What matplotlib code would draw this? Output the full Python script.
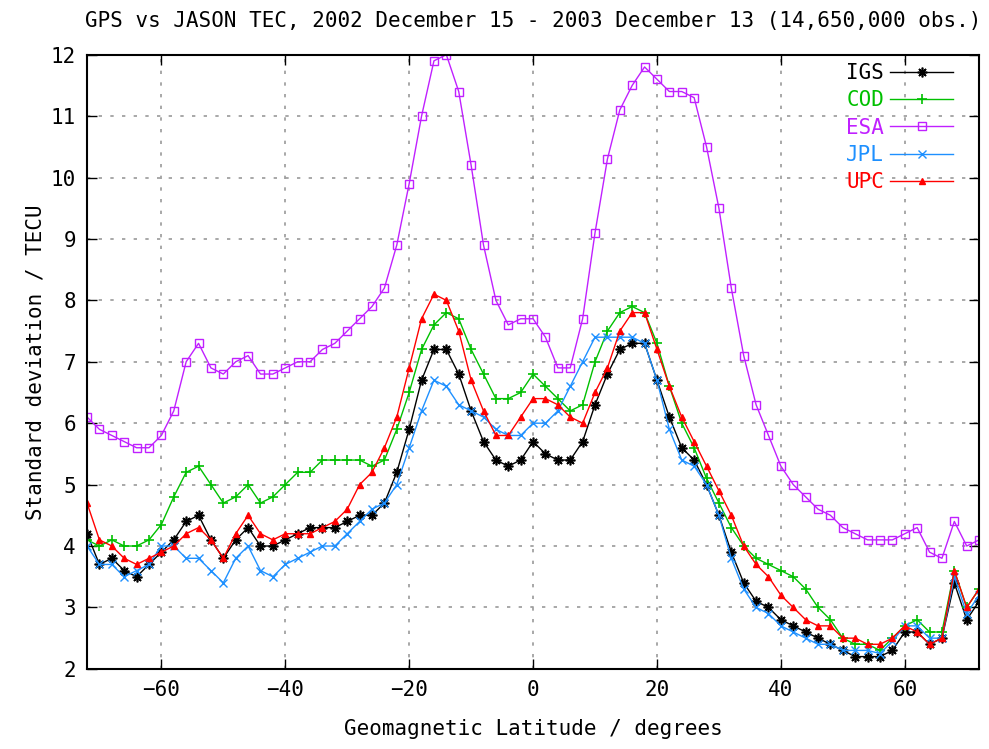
import matplotlib
matplotlib.use("Agg")
import matplotlib.pyplot as plt

# latitud geomagnetica, cada 2 grados
lat = list(range(-72, 74, 2))

igs = [4.2, 3.7, 3.8, 3.6, 3.5, 3.7, 3.9, 4.1, 4.4, 4.5,
       4.1, 3.8, 4.1, 4.3, 4.0, 4.0, 4.1, 4.2, 4.3, 4.3,
       4.3, 4.4, 4.5, 4.5, 4.7, 5.2, 5.9, 6.7, 7.2, 7.2,
       6.8, 6.2, 5.7, 5.4, 5.3, 5.4, 5.7, 5.5, 5.4, 5.4,
       5.7, 6.3, 6.8, 7.2, 7.3, 7.3, 6.7, 6.1, 5.6, 5.4,
       5.0, 4.5, 3.9, 3.4, 3.1, 3.0, 2.8, 2.7, 2.6, 2.5,
       2.4, 2.3, 2.2, 2.2, 2.2, 2.3, 2.6, 2.6, 2.4, 2.5,
       3.4, 2.8, 3.1]
cod = [4.1, 4.0, 4.1, 4.0, 4.0, 4.1, 4.35, 4.8, 5.2, 5.3,
       5.0, 4.7, 4.8, 5.0, 4.7, 4.8, 5.0, 5.2, 5.2, 5.4,
       5.4, 5.4, 5.4, 5.3, 5.4, 5.9, 6.5, 7.2, 7.6, 7.8,
       7.7, 7.2, 6.8, 6.4, 6.4, 6.5, 6.8, 6.6, 6.4, 6.2,
       6.3, 7.0, 7.5, 7.8, 7.9, 7.8, 7.3, 6.6, 6.0, 5.6,
       5.1, 4.7, 4.3, 4.0, 3.8, 3.7, 3.6, 3.5, 3.3, 3.0,
       2.8, 2.5, 2.4, 2.4, 2.3, 2.5, 2.7, 2.8, 2.6, 2.6,
       3.6, 3.0, 3.3]
esa = [6.1, 5.9, 5.8, 5.7, 5.6, 5.6, 5.8, 6.2, 7.0, 7.3,
       6.9, 6.8, 7.0, 7.1, 6.8, 6.8, 6.9, 7.0, 7.0, 7.2,
       7.3, 7.5, 7.7, 7.9, 8.2, 8.9, 9.9, 11.0, 11.9, 12.0,
       11.4, 10.2, 8.9, 8.0, 7.6, 7.7, 7.7, 7.4, 6.9, 6.9,
       7.7, 9.1, 10.3, 11.1, 11.5, 11.8, 11.6, 11.4, 11.4, 11.3,
       10.5, 9.5, 8.2, 7.1, 6.3, 5.8, 5.3, 5.0, 4.8, 4.6,
       4.5, 4.3, 4.2, 4.1, 4.1, 4.1, 4.2, 4.3, 3.9, 3.8,
       4.4, 4.0, 4.1]
jpl = [4.0, 3.7, 3.7, 3.5, 3.6, 3.7, 4.0, 4.0, 3.8, 3.8,
       3.6, 3.4, 3.8, 4.0, 3.6, 3.5, 3.7, 3.8, 3.9, 4.0,
       4.0, 4.2, 4.4, 4.6, 4.7, 5.0, 5.6, 6.2, 6.7, 6.6,
       6.3, 6.2, 6.1, 5.9, 5.8, 5.8, 6.0, 6.0, 6.2, 6.6,
       7.0, 7.4, 7.4, 7.4, 7.4, 7.3, 6.7, 5.9, 5.4, 5.3,
       5.0, 4.5, 3.8, 3.3, 3.0, 2.9, 2.7, 2.6, 2.5, 2.4,
       2.4, 2.3, 2.3, 2.3, 2.25, 2.45, 2.7, 2.7, 2.5, 2.5,
       3.5, 2.9, 3.2]
upc = [4.7, 4.1, 4.0, 3.8, 3.7, 3.8, 3.9, 4.0, 4.2, 4.3,
       4.1, 3.8, 4.2, 4.5, 4.2, 4.1, 4.2, 4.2, 4.2, 4.3,
       4.4, 4.6, 5.0, 5.2, 5.6, 6.1, 6.9, 7.7, 8.1, 8.0,
       7.5, 6.7, 6.2, 5.8, 5.8, 6.1, 6.4, 6.4, 6.3, 6.1,
       6.0, 6.5, 6.9, 7.5, 7.8, 7.8, 7.2, 6.6, 6.1, 5.7,
       5.3, 4.9, 4.5, 4.0, 3.7, 3.5, 3.2, 3.0, 2.8, 2.7,
       2.7, 2.5, 2.5, 2.4, 2.4, 2.5, 2.7, 2.6, 2.4, 2.5,
       3.6, 3.0, 3.3]

labels = ["IGS", "COD", "ESA", "JPL", "UPC"]
colors = ["#000000", "#00c000", "#c020ff", "#1e90ff", "#ff0000"]
markers = [(8, 2, 0), "+", "s", "x", "^"]
series = [igs, cod, esa, jpl, upc]

plt.rcParams['font.family'] = ['DejaVu Sans Mono']
plt.rcParams['font.size'] = 15

fig = plt.figure(figsize=(9.89, 7.49), dpi=100)
ax = fig.add_axes([0.088, 0.107, 0.902, 0.82])

for y, lab, c, m in zip(series, labels, colors, markers):
    if m == "s":
        ax.plot(lat, y, color=c, lw=1, marker=m, ms=6, mfc="none", mec=c, mew=1, label=lab)
    elif m == "^":
        ax.plot(lat, y, color=c, lw=1, marker=m, ms=5, mfc=c, mec=c, label=lab)
    elif m == "x":
        ax.plot(lat, y, color=c, lw=1, marker=m, ms=6, mew=1, label=lab)
    else:
        ax.plot(lat, y, color=c, lw=1, marker=m, ms=7, mew=1.2, label=lab)

ax.set_xlim(-72, 72)
ax.set_ylim(2, 12)
ax.set_xticks([-60, -40, -20, 0, 20, 40, 60])
ax.set_yticks(range(2, 13))
ax.tick_params(direction="in", top=True, right=True, length=7, width=1, pad=8)
ax.grid(True, color="#999999", linestyle=(0, (2, 5)), linewidth=1.2)
for s in ax.spines.values():
    s.set_linewidth(1.5)

ax.set_title("GPS vs JASON TEC, 2002 December 15 - 2003 December 13 (14,650,000 obs.)",
             fontsize=15, pad=20)
ax.set_xlabel("Geomagnetic Latitude / degrees", labelpad=14)
ax.set_ylabel("Standard deviation / TECU", labelpad=4)

leg = ax.legend(loc="upper right", bbox_to_anchor=(0.98, 1.0), frameon=False,
                markerfirst=False, numpoints=1,
                handlelength=3.0, handletextpad=0.3, labelspacing=0.35,
                borderaxespad=0.1, borderpad=0.3)
for t, c in zip(leg.get_texts(), colors):
    t.set_color(c)

fig.savefig("out.png", dpi=100)
